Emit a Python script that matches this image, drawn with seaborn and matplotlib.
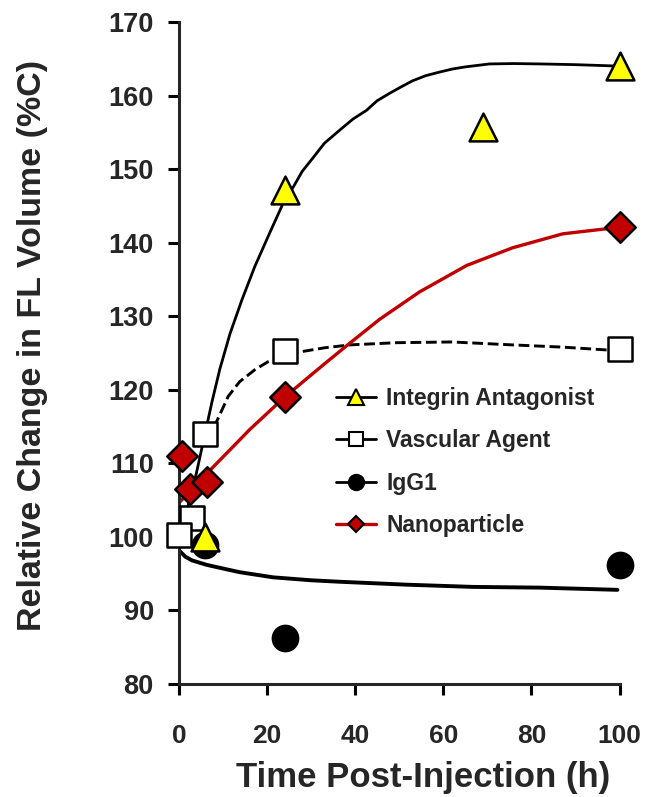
import matplotlib
matplotlib.use("Agg")
import matplotlib.pyplot as plt
from matplotlib.lines import Line2D
import seaborn as sns

# ---- marker data ----
integrin_t = [6, 24, 69, 100]
integrin_v = [100.0, 147.2, 155.7, 164.0]

vascular_t = [3, 0, 6, 24, 100]
vascular_v = [102.5, 100.2, 114.0, 125.3, 125.5]

igg1_t = [6, 24, 100]
igg1_v = [98.9, 86.3, 96.2]

nano_t = [0.7, 2.5, 6.3, 24, 100]
nano_v = [111.0, 106.5, 107.4, 119.0, 142.1]

# ---- trend curves ----
integrin_fit_t = [0.5, 2, 4, 6.3, 7.5, 9.3, 11.6, 14.3, 17.2, 20.6, 24, 26, 28,
                  30.4, 33, 36.5, 39.5, 42.6, 45, 47.8, 50.5, 53, 56, 59.2, 62,
                  65, 70.5, 76, 81.9, 90, 100]
integrin_fit_v = [100.5, 104.0, 108.7, 115.0, 118.3, 122.8, 127.6, 132.2, 136.7,
                  141.3, 145.8, 147.6, 149.7, 151.5, 153.5, 155.3, 156.8, 158.0,
                  159.3, 160.3, 161.2, 162.0, 162.7, 163.2, 163.6,
                  163.9, 164.3, 164.35, 164.3, 164.2, 164.0]

vascular_fit_t = [6.5, 8.9, 11.2, 13.8, 17.2, 20.2, 24, 27, 33, 38.8, 49.4, 62,
                  75.7, 87, 100]
vascular_fit_v = [113.0, 116.1, 119.1, 121.1, 122.7, 123.8, 124.6, 125.1, 125.7,
                  126.1, 126.4, 126.5, 126.1, 125.8, 125.3]

igg1_fit_t = [0.3, 1.5, 3, 6.3, 10, 13.8, 21.4, 30, 36.5, 51.7, 66.7, 81.9, 99.5]
igg1_fit_v = [98.0, 97.3, 96.8, 96.2, 95.7, 95.2, 94.5, 94.1, 93.9, 93.5, 93.2,
              93.1, 92.8]

nano_fit_t = [0, 6, 12.2, 16.1, 24, 27.4, 33, 38.1, 45.6, 54.6, 65.3, 75.7,
              87.1, 100]
nano_fit_v = [104.6, 108.4, 112.2, 114.6, 119.0, 120.7, 123.5, 126.0, 129.6,
              133.3, 136.9, 139.3, 141.2, 142.1]

labels = ["Integrin Antagonist", "Vascular Agent", "IgG1", "Nanoparticle"]
x_ticks = [0, 20, 40, 60, 80, 100]
y_ticks = [80, 90, 100, 110, 120, 130, 140, 150, 160, 170]

RED = "#C00000"
YEL = "#FFFF00"

sns.set_style("ticks")
plt.rcParams["font.family"] = ["Liberation Sans", "DejaVu Sans"]

fig = plt.figure(figsize=(6.55, 7.97), dpi=100)
ax = fig.add_axes([0.273, 0.1418, 0.673, 0.8306])

# curves
sns.lineplot(x=integrin_fit_t, y=integrin_fit_v, ax=ax, color="black",
             linewidth=2.0, sort=False, zorder=2)
sns.lineplot(x=vascular_fit_t, y=vascular_fit_v, ax=ax, color="black",
             linewidth=2.1, linestyle="--", sort=False, zorder=2)
sns.lineplot(x=igg1_fit_t, y=igg1_fit_v, ax=ax, color="black",
             linewidth=2.8, sort=False, zorder=2)
sns.lineplot(x=nano_fit_t, y=nano_fit_v, ax=ax, color=RED,
             linewidth=2.4, sort=False, zorder=2)

# markers
ew = 1.8
sns.scatterplot(x=igg1_t, y=igg1_v, ax=ax, marker="o", s=330, color="black",
                edgecolor="black", linewidth=ew, zorder=3, clip_on=False)
sns.scatterplot(x=vascular_t, y=vascular_v, ax=ax, marker="s", s=275, color="white",
                edgecolor="black", linewidth=ew, zorder=4, clip_on=False)
sns.scatterplot(x=integrin_t, y=integrin_v, ax=ax, marker="^", s=400, color=YEL,
                edgecolor="black", linewidth=ew, zorder=5, clip_on=False)
sns.scatterplot(x=nano_t, y=nano_v, ax=ax, marker="D", s=240, color=RED,
                edgecolor="black", linewidth=ew, zorder=6, clip_on=False)

ax.set_xlim(0, 100)
ax.set_ylim(80, 170)
ax.set_xticks(x_ticks)
ax.set_yticks(y_ticks)
ax.set_xticklabels([str(v) for v in x_ticks], fontsize=19, fontweight="bold")
ax.set_yticklabels([str(v) for v in y_ticks], fontsize=19.5, fontweight="bold")
sns.despine(ax=ax)
for sp in ("left", "bottom"):
    ax.spines[sp].set_linewidth(2.2)
ax.tick_params(axis="both", direction="out", length=8, width=2.2, color="black")
ax.tick_params(axis="x", pad=21)
ax.tick_params(axis="y", pad=10)

ax.set_xlabel("Time Post-Injection (h)", fontsize=25, fontweight="bold")
ax.xaxis.set_label_coords((423 - 179) / 441, (684 - 778) / 662)
ax.xaxis.label.set_va("center")
ax.set_ylabel("Relative Change in FL Volume (%C)", fontsize=24.5, fontweight="bold")
ax.yaxis.set_label_coords((33 - 179) / 441, (684 - 345) / 662)
ax.yaxis.label.set_va("center")

handles = [
    Line2D([], [], color="black", lw=2, marker="^", markersize=11,
           markerfacecolor=YEL, markeredgecolor="black", markeredgewidth=1.5),
    Line2D([], [], color="black", lw=2, marker="s", markersize=10,
           markerfacecolor="white", markeredgecolor="black", markeredgewidth=1.5),
    Line2D([], [], color="black", lw=2, marker="o", markersize=11,
           markerfacecolor="black", markeredgecolor="black", markeredgewidth=1.5),
    Line2D([], [], color=RED, lw=2.4, marker="D", markersize=8,
           markerfacecolor=RED, markeredgecolor="black", markeredgewidth=1.5),
]
ax.legend(handles, labels, loc="upper left",
          bbox_to_anchor=((336 - 179) / 441, (684 - 387) / 662),
          frameon=False, borderpad=0, borderaxespad=0, handlelength=1.75,
          handletextpad=0.45, labelspacing=0.85,
          prop={"family": "Liberation Sans", "weight": "bold", "size": 16.5})

fig.savefig("out.png", dpi=100)
